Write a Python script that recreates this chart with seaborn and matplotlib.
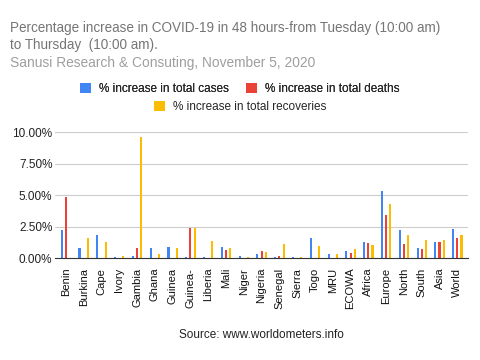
import pandas as pd
import numpy as np
import seaborn as sns
from matplotlib import pyplot as plt
from matplotlib.ticker import FuncFormatter


# values (percent)
countries = ['Benin', 'Burkina', 'Cape', 'Ivory', 'Gambia', 'Ghana', 'Guinea', 'Guinea-',
             'Liberia', 'Mali', 'Niger', 'Nigeria', 'Senegal', 'Sierra', 'Togo', 'MRU',
             'ECOWA', 'Africa', 'Europe', 'North', 'South', 'Asia', 'World']
cases = [2.2, 0.82, 1.83, 0.1, 0.15, 0.82, 0.9, 0.05, 0.05, 0.9, 0.13, 0.35,
         0.05, 0.08, 1.6, 0.35, 0.6, 1.3, 5.3, 2.26, 0.83, 1.3, 2.34]
deaths = [4.84, 0.0, 0.0, 0.0, 0.77, 0.0, 0.0, 2.38, 0.0, 0.66, 0.0, 0.6,
          0.2, 0.0, 0.0, 0.0, 0.43, 1.2, 3.41, 1.13, 0.75, 1.3, 1.56]
recoveries = [0.0, 1.61, 1.3, 0.15, 9.6, 0.3, 0.82, 2.38, 1.38, 0.77, 0.05, 0.52,
              1.13, 0.08, 1.0, 0.35, 0.75, 1.05, 4.27, 1.85, 1.45, 1.45, 1.85]
series_names = ['% increase in total cases', '% increase in total deaths',
                '% increase in total recoveries']
colors = ['#4285F4', '#EA4335', '#FBBC04']

df = pd.DataFrame({'country': countries,
                   series_names[0]: cases,
                   series_names[1]: deaths,
                   series_names[2]: recoveries})
df_long = df.melt(id_vars='country', var_name='series', value_name='pct')

sns.set_style('white')
plt.rcParams['font.family'] = ['Liberation Sans', 'DejaVu Sans']

fig = plt.figure(figsize=(4.8, 3.6), dpi=100)
ax = fig.add_axes([0.115, 0.283, 0.86, 0.35])

sns.barplot(data=df_long, x='country', y='pct', hue='series', palette=colors,
            saturation=1, width=0.7, gap=0.5, linewidth=0, ax=ax, legend=True)

handles, labels = ax.get_legend_handles_labels()
ax.get_legend().remove()

ax.set_ylim(0, 10)
ax.set_yticks([0, 2.5, 5, 7.5, 10])
ax.yaxis.set_major_formatter(FuncFormatter(lambda v, p: '%.2f%%' % v))
ax.grid(axis='y', color='#cccccc', linewidth=0.8)
ax.set_axisbelow(True)
for s in ['top', 'right', 'left']:
    ax.spines[s].set_visible(False)
ax.spines['bottom'].set_color('#333333')
ax.tick_params(axis='y', labelsize=8.5, colors='#222222', length=0, pad=2)
ax.tick_params(axis='x', labelsize=8, colors='#111111', length=0, pad=7, rotation=90)
ax.set_xlabel('')
ax.set_ylabel('')
ax.set_xlim(-0.6, len(countries) - 0.4)

# titles
fig.text(0.02, 0.922, 'Percentage increase in COVID-19 in 48 hours-from Tuesday (10:00 am)',
         fontsize=9.75, color='#757575', va='center')
fig.text(0.02, 0.876, 'to Thursday  (10:00 am).', fontsize=9.75, color='#757575', va='center')
fig.text(0.02, 0.825, 'Sanusi Research & Consuting, November 5, 2020',
         fontsize=9.9, color='#9e9e9e', va='center')

# legend: two entries on first row, third centered below
leg_kw = dict(frameon=False, fontsize=8.5, handlelength=0.95, handleheight=0.95,
              handletextpad=0.68, columnspacing=1.45)
leg1 = fig.legend(handles[:2], labels[:2], loc='center', bbox_to_anchor=(0.5, 0.753),
                  ncol=2, **leg_kw)
fig.legend(handles[2:], labels[2:], loc='center', bbox_to_anchor=(0.5, 0.703),
           ncol=1, **leg_kw)
fig.add_artist(leg1)

fig.text(0.545, 0.07, 'Source: www.worldometers.info', fontsize=8.5, color='#222222',
         ha='center', va='center')

fig.savefig('out.png', dpi=100)
